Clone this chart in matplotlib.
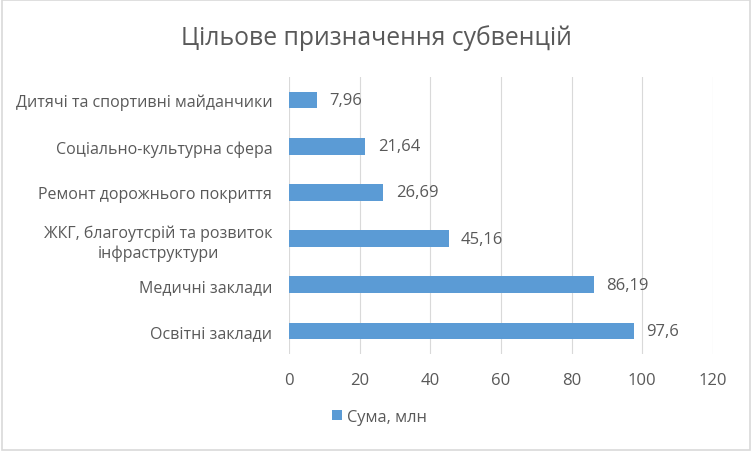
import matplotlib

matplotlib.use("Agg")
import matplotlib.pyplot as plt
from matplotlib.patches import Rectangle

categories = [
    "Освітні заклади",
    "Медичні заклади",
    "ЖКГ, благоутсрій та розвиток\nінфраструктури",
    "Ремонт дорожнього покриття",
    "Соціально-культурна сфера",
    "Дитячі та спортивні майданчики",
]
values = [97.6, 86.19, 45.16, 26.69, 21.64, 7.96]
value_labels = ["97,6", "86,19", "45,16", "26,69", "21,64", "7,96"]
x_ticks = [0, 20, 40, 60, 80, 100, 120]

TEXT = "#595959"
BAR = "#5B9BD5"
GRID = "#D9D9D9"

plt.rcParams["font.family"] = ["Open Sans", "DejaVu Sans"]

fig = plt.figure(figsize=(7.52, 4.52), dpi=100)
ax = fig.add_axes([289 / 752, 1 - 355 / 452, 424 / 752, 277 / 452])

bars = ax.barh(range(len(categories)), values, height=0.36, color=BAR, label="Сума, млн", zorder=3)
ax.bar_label(bars, labels=value_labels, padding=9, fontsize=12, color=TEXT)

ax.set_yticks(range(len(categories)))
ax.set_yticklabels(categories, fontsize=11.5, color=TEXT, multialignment="center", linespacing=1.3)
ax.set_ylim(-0.5, len(categories) - 0.5)
ax.set_xlim(0, 120)
ax.set_xticks(x_ticks)
ax.set_xticklabels([str(t) for t in x_ticks], fontsize=12, color=TEXT)
ax.tick_params(length=0)
ax.tick_params(axis="x", pad=13)
ax.tick_params(axis="y", pad=12)
ax.xaxis.grid(True, color=GRID, linewidth=0.8, zorder=0)
for side in ax.spines.values():
    side.set_visible(False)

fig.text(0.5, 1 - 38 / 452, "Цільове призначення субвенцій", ha="center", va="center",
         fontsize=17.8, color=TEXT)

fig.legend(loc="center", bbox_to_anchor=(0.505, 1 - 418 / 452), frameon=False, fontsize=11.8,
           labelcolor=TEXT, handlelength=0.6, handleheight=0.6, handletextpad=0.3)

fig.patches.append(Rectangle((0.002, 0.003), 0.995, 0.994, transform=fig.transFigure,
                             fill=False, edgecolor="#D9D9D9", linewidth=1.2))

fig.savefig("out.png", dpi=100, facecolor="white")
